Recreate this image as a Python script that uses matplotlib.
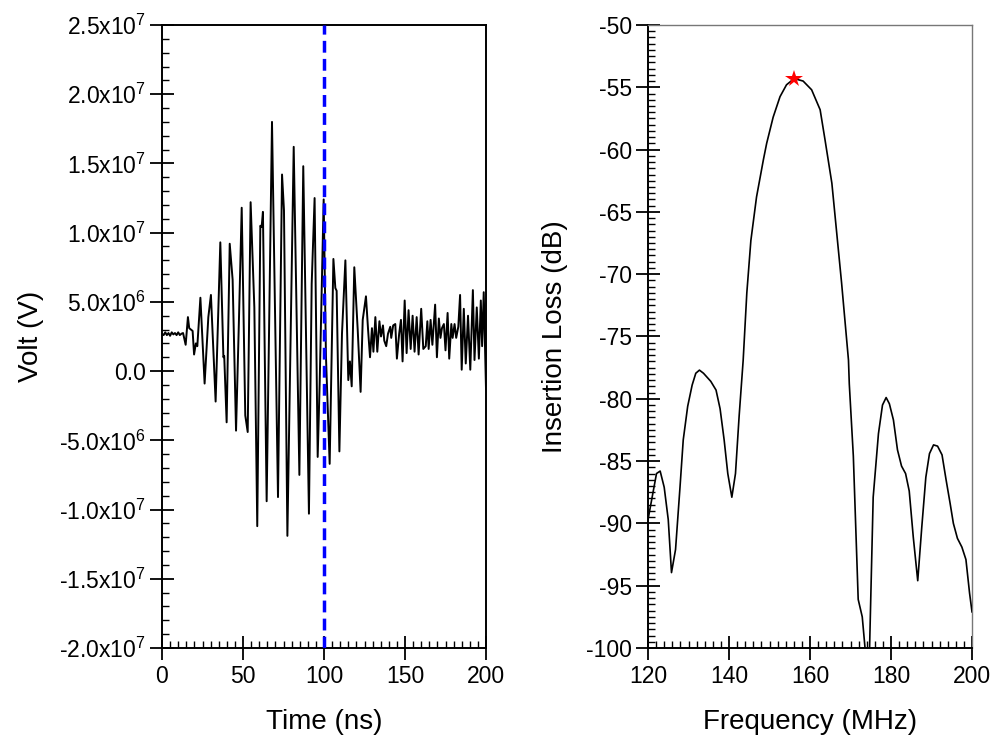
import matplotlib
matplotlib.use("Agg")
import matplotlib.pyplot as plt
from matplotlib.ticker import MultipleLocator, FixedLocator

plt.rcParams['font.family'] = ['Liberation Sans', 'DejaVu Sans']
plt.rcParams['mathtext.fontset'] = 'custom'
plt.rcParams['mathtext.rm'] = 'Liberation Sans'
plt.rcParams['mathtext.it'] = 'Liberation Sans:italic'
plt.rcParams['axes.unicode_minus'] = False

# ---- time-domain signal (ns, volts in units of 1e6) ----
time_ns = [0, 1, 2, 3, 4, 5, 6, 7, 8, 9, 10, 11, 12, 13,
           14.6, 16.0, 16.8, 17.9, 18.9, 19.8, 20.9, 21.8, 23.7, 26.3,
           28.6, 30.2, 33.1, 36.0, 37.9, 38.4, 39.9, 41.8, 43.6, 45.7,
           47.5, 49.2, 51.4, 52.9, 54.7, 57.0, 58.8, 60.7, 61.5, 62.3,
           64.6, 67.9, 71.6, 74.1, 75.3, 77.4, 81.3, 84.8, 87.2, 90.7,
           92.4, 94.2, 96.1, 97.3, 99.8, 101.2, 103.5, 105.8, 107.0, 107.8,
           109.5, 111.1, 113.2, 115.0, 116.0, 117.1, 118.7, 120.8, 122.6, 123.9,
           125.9, 127.2, 128.4, 129.6, 130.5, 131.7, 132.9, 134.2, 135.2, 136.4,
           137.2, 138.4, 139.5, 140.9, 141.5, 142.7, 144.0, 145.0, 146.4, 147.5,
           148.5, 149.8, 151.0, 152.2, 153.5, 154.7, 155.9, 157.2, 158.4, 160.0,
           161.3, 162.8, 163.8, 164.6, 165.8, 166.9, 168.6, 169.7, 170.9, 171.9,
           172.8, 174.0, 175.0, 176.3, 177.3, 178.6, 179.4, 180.6, 181.6, 182.9,
           184.0, 185.0, 186.3, 187.5, 188.9, 190.3, 191.9, 192.9, 194.3, 195.6,
           196.8, 197.6, 198.6, 199.5, 200.0]
volt_1e6 = [2.7, 2.6, 2.8, 2.6, 2.75, 2.55, 2.8, 2.65, 2.75, 2.6, 2.8, 2.6, 2.7, 2.75,
            1.9, 3.9, 3.1, 3.0, 2.9, 1.2, 2.0, 1.8, 5.3, -0.9,
            3.9, 5.5, -2.2, 9.3, 1.0, 1.1, -3.7, 9.2, 6.6, -4.3,
            3.7, 11.8, -3.2, -4.4, 12.2, 4.6, -11.2, 10.5, 10.4, 11.5,
            -9.4, 18.0, -9.1, 14.2, 11.6, -11.9, 16.2, -7.5, 14.8, -10.3,
            6.3, 12.5, -6.2, -1.0, 12.4, 1.1, -6.7, 8.1, 6.0, 5.8,
            -5.8, 2.7, 8.0, -0.65, 0.7, -1.1, 7.5, 3.0, -1.5, 3.7,
            5.4, 3.0, 1.0, 3.1, 1.4, 3.9, 1.4, 3.6, 2.5, 3.3,
            2.2, 1.8, 2.7, 3.2, 2.4, 3.3, 3.4, 0.9, 2.7, 3.7,
            0.7, 5.1, 1.3, 4.4, 1.6, 4.0, 1.4, 3.9, 1.2, 4.5,
            1.6, 1.8, 3.6, 1.6, 3.7, 1.9, 4.8, 1.0, 3.8, 2.4,
            3.1, 3.4, 1.5, 4.2, 0.9, 3.4, 2.4, 3.4, 2.4, 3.2,
            5.5, 0.1, 4.5, 0.55, 4.0, 0.1, 5.85, 0.8, 4.6, 0.9,
            5.1, 1.8, 5.7, 1.0, -1.3]
gate_time = 100

# ---- frequency response ----
freq_mhz = [120.0, 122.1, 123.0, 124.0, 125.0, 125.8, 126.8, 127.9, 128.7, 129.8,
            130.9, 131.8, 132.7, 133.7, 135.5, 136.8, 137.8, 138.8, 139.7, 140.7,
            141.6, 142.5, 143.5, 144.4, 145.4, 146.8, 148.5, 149.3, 150.9, 152.6,
            154.2, 156.1, 158.3, 160.4, 162.5, 163.7, 165.4, 166.6, 167.8, 169.5,
            169.7, 170.7, 171.4, 171.9, 172.9, 174.0, 174.6, 175.6, 176.9, 177.9,
            178.8, 179.6, 180.6, 181.6, 182.6, 183.6, 184.5, 185.5, 186.6, 187.6,
            188.6, 189.5, 190.5, 191.5, 192.6, 193.6, 194.6, 195.4, 196.4, 197.5,
            198.5, 199.4, 200.0]
loss_db = [-89.7, -86.0, -85.8, -87.1, -89.7, -93.95, -92.1, -87.1, -83.3, -80.6,
           -78.9, -77.95, -77.7, -77.95, -78.6, -79.3, -80.8, -83.3, -86.0, -87.9,
           -86.0, -81.4, -76.9, -71.5, -67.3, -63.8, -60.8, -59.5, -57.4, -55.75,
           -54.8, -54.3, -54.5, -55.2, -56.8, -59.2, -62.7, -66.7, -70.7, -76.9,
           -78.8, -84.6, -91.3, -96.1, -97.5, -101.5, -101.5, -87.9, -82.8, -80.5,
           -79.9, -80.4, -81.7, -84.1, -85.4, -86.0, -87.4, -91.1, -94.6, -90.3,
           -86.3, -84.4, -83.7, -83.8, -84.5, -86.5, -88.4, -90.0, -91.2, -91.9,
           -92.9, -95.6, -97.1]
peak_freq = 156.1
peak_loss = -54.3

# ---- ticks ----
volt_ticks = [-2.0e7, -1.5e7, -1.0e7, -5.0e6, 0.0, 5.0e6, 1.0e7, 1.5e7, 2.0e7, 2.5e7]
volt_tick_labels = ['-2.0x10$^{7}$', '-1.5x10$^{7}$', '-1.0x10$^{7}$', '-5.0x10$^{6}$',
                    '0.0', '5.0x10$^{6}$', '1.0x10$^{7}$', '1.5x10$^{7}$',
                    '2.0x10$^{7}$', '2.5x10$^{7}$']
time_ticks = [0, 50, 100, 150, 200]
freq_ticks = [120, 140, 160, 180, 200]
loss_ticks = [-100, -95, -90, -85, -80, -75, -70, -65, -60, -55, -50]

fig = plt.figure(figsize=(10, 7.48), dpi=100)
ax1 = fig.add_axes([0.162, 0.1337, 0.324, 0.8329])
ax2 = fig.add_axes([0.648, 0.1337, 0.324, 0.8329])

# left panel
volts = [v * 1e6 for v in volt_1e6]
ax1.plot(time_ns, volts, color='black', lw=1.4, zorder=3)
ax1.axvline(gate_time, color='#0000ff', lw=2.5, dashes=(3.4, 1.8), zorder=4)
ax1.set_xlim(0, 200)
ax1.set_ylim(-2.0e7, 2.5e7)
ax1.xaxis.set_major_locator(FixedLocator(time_ticks))
ax1.xaxis.set_minor_locator(MultipleLocator(5))
ax1.yaxis.set_major_locator(FixedLocator(volt_ticks))
ax1.set_yticklabels(volt_tick_labels)
ax1.yaxis.set_minor_locator(MultipleLocator(1e6))
ax1.set_xlabel('Time (ns)', fontsize=20, labelpad=15)
ax1.set_ylabel('Volt (V)', fontsize=20, labelpad=11)
for s in ax1.spines.values():
    s.set_linewidth(1.4)

# right panel
ax2.plot(freq_mhz, loss_db, color='black', lw=1.2, zorder=3)
ax2.plot([peak_freq], [peak_loss], marker='*', color='red', markersize=13,
         markeredgewidth=0, zorder=5, clip_on=False)
ax2.set_xlim(120, 200)
ax2.set_ylim(-100, -50)
ax2.xaxis.set_major_locator(FixedLocator(freq_ticks))
ax2.xaxis.set_minor_locator(MultipleLocator(2))
ax2.yaxis.set_major_locator(FixedLocator(loss_ticks))
ax2.yaxis.set_minor_locator(MultipleLocator(0.5))
ax2.set_xlabel('Frequency (MHz)', fontsize=20, labelpad=15)
ax2.set_ylabel('Insertion Loss (dB)', fontsize=20, labelpad=13)
ax2.spines['left'].set_linewidth(1.4)
ax2.spines['bottom'].set_linewidth(1.4)
ax2.spines['top'].set_linewidth(1.0)
ax2.spines['right'].set_linewidth(1.0)
ax2.spines['top'].set_color('#777777')
ax2.spines['right'].set_color('#777777')

for ax in (ax1, ax2):
    ax.tick_params(which='major', direction='inout', length=17, width=1.3,
                   labelsize=16.5, pad=3, top=False, right=False)
    ax.tick_params(which='minor', direction='in', length=5, width=1.0,
                   top=False, right=False)
    ax.tick_params(axis='x', which='major', pad=4)

fig.savefig('out.png', dpi=100)
